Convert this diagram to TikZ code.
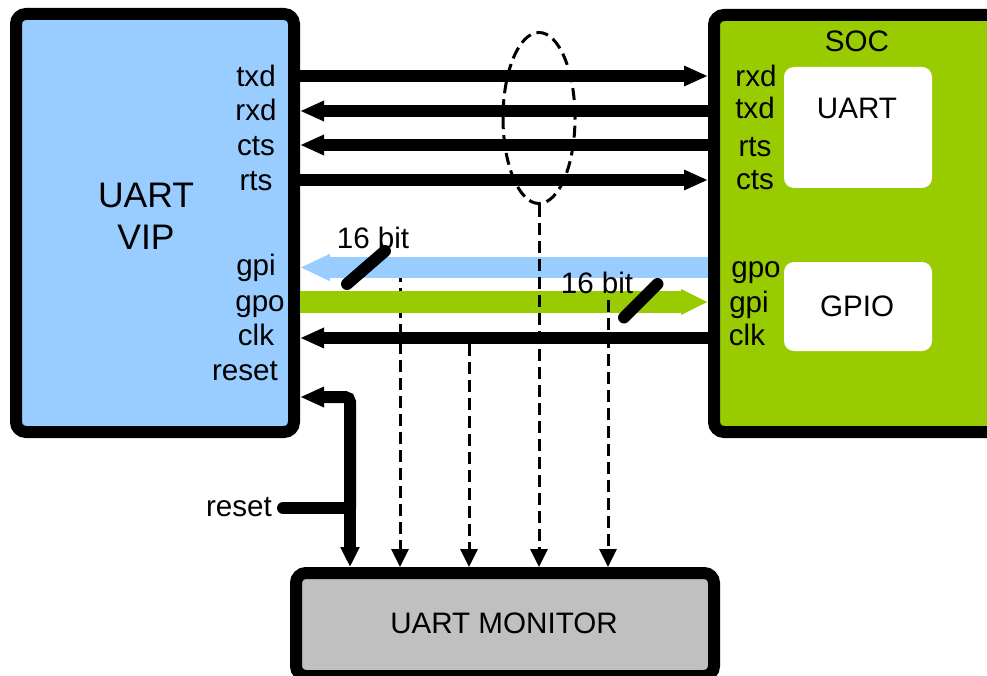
\documentclass[tikz,border=0pt]{standalone}
\usepackage{fontspec}
\setmainfont{Liberation Sans}
\usetikzlibrary{arrows.meta,shapes.geometric}
\definecolor{vipblue}{HTML}{99CCFF}
\definecolor{socgreen}{HTML}{99CC00}
\definecolor{mongray}{HTML}{C0C0C0}
\newcommand\lbfont{\fontsize{29.6}{31}\selectfont}
\newcommand\bigfont{\fontsize{35.5}{42}\selectfont}
\begin{document}
\begin{tikzpicture}[x=1pt,y=-1pt,
  box/.style={draw=black,line width=12pt,rounded corners=10pt,inner sep=0pt,outer sep=6pt},
  inbox/.style={fill=white,rounded corners=10pt,inner sep=0pt},
  lbl/.style={font=\lbfont,anchor=base,inner sep=0pt},
  sig/.style={line width=12pt,-{Triangle[length=24pt,width=19pt]}},
  tap/.style={line width=3pt,dash pattern=on 12pt off 6pt,-{Triangle[length=18pt,width=17pt]}},
  slash/.style={line width=12pt,line cap=round}]
\useasboundingbox (0,0) rectangle (987,676);
% blocks
\node[box,fill=vipblue,minimum width=278pt,minimum height=418pt] (vip) at (155,223) {};
\node[box,fill=socgreen,minimum width=286pt,minimum height=417pt] (soc) at (857,223.5) {};
\node[box,fill=mongray,minimum width=418pt,minimum height=103pt] (mon) at (505,624.5) {};
\node[inbox,minimum width=148pt,minimum height=121pt] (uartbox) at (858,127.5) {};
\node[inbox,minimum width=148pt,minimum height=89pt] (gpiobox) at (858,306.5) {};
% levels
\coordinate (ytxd) at (0,76);
\coordinate (yrxd) at (0,111);
\coordinate (ycts) at (0,145);
\coordinate (yrts) at (0,180);
\coordinate (ygpi) at (0,267.5);
\coordinate (ygpo) at (0,302);
\coordinate (yclk) at (0,338);
\coordinate (yrst) at (0,397);
% monitor taps under the buses
\coordinate (tA) at (400,270);
\draw[tap] (tA) -- (tA |- mon.north);
% buses
\draw[line width=21pt,draw=vipblue,-{Triangle[length=30pt,width=25pt]}] (soc.west |- ygpi) -- (vip.east |- ygpi);
\draw[line width=22pt,draw=socgreen,-{Triangle[length=27pt,width=24pt]}] (vip.east |- ygpo) -- (soc.west |- ygpo);
% signals
\draw[sig] (vip.east |- ytxd) -- (soc.west |- ytxd);
\draw[sig] (soc.west |- yrxd) -- (vip.east |- yrxd);
\draw[sig] (soc.west |- ycts) -- (vip.east |- ycts);
\draw[sig] (vip.east |- yrts) -- (soc.west |- yrts);
\draw[sig] (soc.west |- yclk) -- (vip.east |- yclk);
% group ellipse
\node[draw,ellipse,line width=3pt,dash pattern=on 12pt off 6pt,minimum width=72pt,minimum height=171pt,inner sep=0pt] (grp) at (539,118) {};
\coordinate (tB) at (469,344);
\coordinate (tD) at (608,300);
\draw[tap] (tB) -- (tB |- mon.north);
\draw[tap] (grp.south) -- (grp.south |- mon.north);
\draw[tap] (tD) -- (tD |- mon.north);
% reset
\coordinate (rsrc) at (283,508);
\coordinate (rj) at (350,508);
\draw[slash] (rsrc) -- (rj);
\draw[sig,rounded corners=5pt] (rj) |- (vip.east |- yrst);
\draw[line width=12pt,-{Triangle[length=20pt,width=18pt]}] (rj) -- (rj |- mon.north);
% texts
\node[lbl,font=\bigfont] (viptxt1) at (146,208) {UART};
\node[lbl,font=\bigfont] (viptxt2) at (146,250) {VIP};
\node[lbl] (soctxt) at (857,52) {SOC};
\node[lbl] (uarttxt) at (857,119) {UART};
\node[lbl] (gpiotxt) at (857,316) {GPIO};
\node[lbl] (montxt) at (504,633) {UART MONITOR};
\node[lbl] (rsttxt) at (239,516) {reset};
\node[lbl] (ltxd) at (256,87) {txd};
\node[lbl] (lrxd) at (256,121) {rxd};
\node[lbl] (lcts) at (256,156) {cts};
\node[lbl] (lrts) at (256,191) {rts};
\node[lbl] (lgpi) at (256,276) {gpi};
\node[lbl] (lgpo) at (260,311) {gpo};
\node[lbl] (lclk) at (256,345) {clk};
\node[lbl] (lrst) at (245,380) {reset};
\node[lbl] (rrxd) at (756,87) {rxd};
\node[lbl] (rtxd) at (755,119) {txd};
\node[lbl] (rrts) at (755,157) {rts};
\node[lbl] (rcts) at (755,190) {cts};
\node[lbl] (rgpo) at (756,277) {gpo};
\node[lbl] (rgpi) at (749,312) {gpi};
\node[lbl] (rclk) at (747,345) {clk};
\node[lbl] (bit1) at (373,248) {16 bit};
\node[lbl] (bit2) at (597,293) {16 bit};
% bus width marks
\draw[slash] (347,284) -- (385,251);
\draw[slash] (624,317.5) -- (657.5,284);
\end{tikzpicture}
\end{document}
